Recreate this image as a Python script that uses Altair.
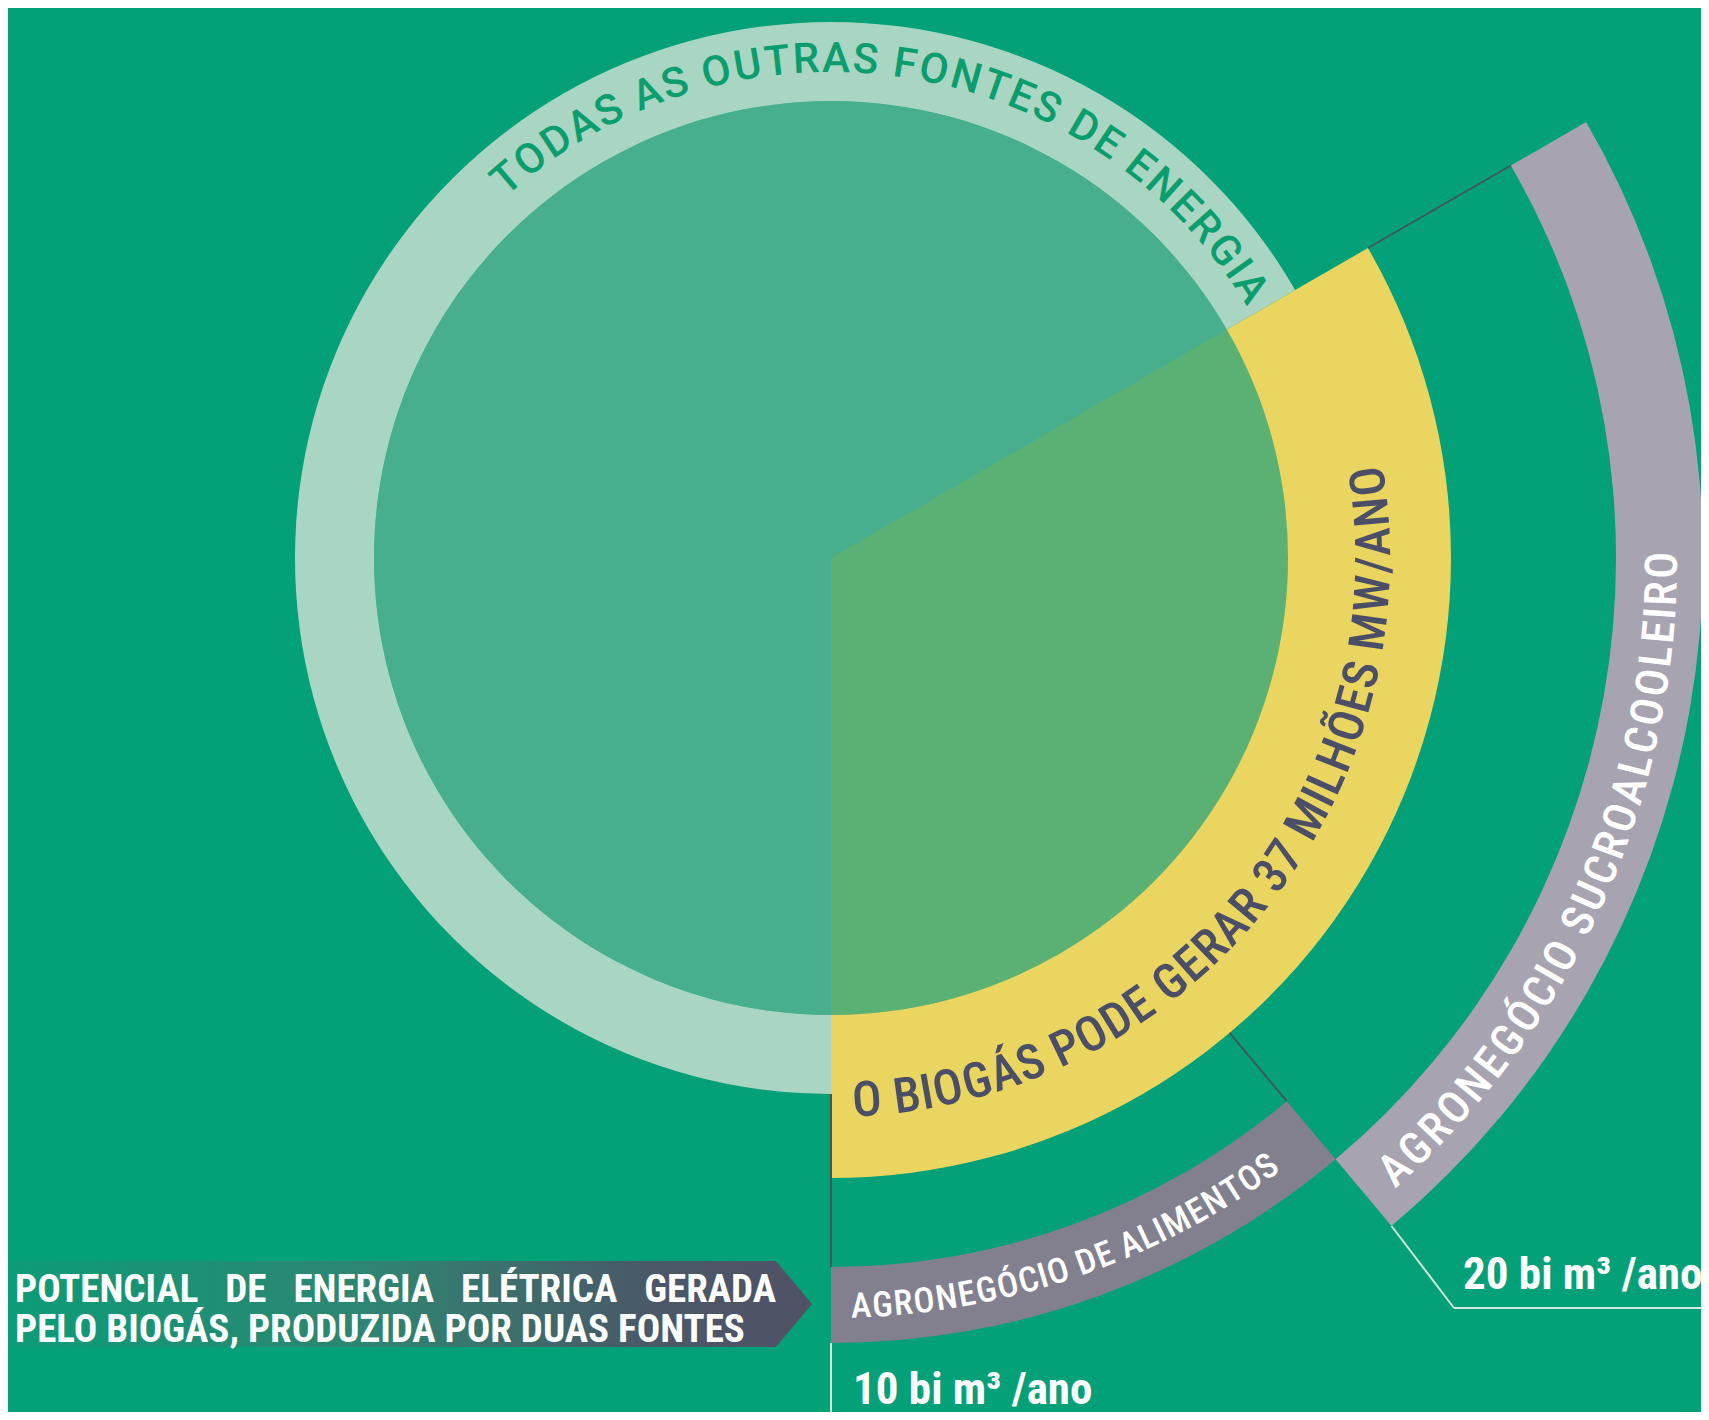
import math
import altair as alt
import pandas as pd

# ---------------- data (read from the infographic) ----------------
share_names = ["Todas as outras fontes de energia", "Biogás"]
share_values = [2, 1]                      # biogás ~ 1/3 of the circle
share_labels = ["TODAS AS OUTRAS FONTES DE ENERGIA",
                "O BIOGÁS PODE GERAR 37 MILHÕES MW/ANO"]
source_names = ["AGRONEGÓCIO DE ALIMENTOS", "AGRONEGÓCIO SUCROALCOOLEIRO"]
source_values = [10, 20]                   # bi m³/ano
source_value_labels = ["10 bi m³ /ano", "20 bi m³ /ano"]
caption_lines = ["POTENCIAL DE ENERGIA ELÉTRICA GERADA",
                 "PELO BIOGÁS, PRODUZIDA POR DUAS FONTES"]

# ---------------- layout / style ----------------
W, H = 1693, 1404
CX, CY = 823, 550
R_DISC, R_RING, R_YEL = 457, 536, 620
R_SRC = [(709, 785), (785, 872)]

BG = "#04a077"
DISC = "#47af8d"
WEDGE = "#5bb074"
RING = "#a8d6c2"
YEL = "#e9d55f"
SRC_COL = ["#82808f", "#a7a3b1"]
DARK_TXT = "#4a4e66"
TOP_TXT = "#0a9d6e"
LINE_DARK = "#3f5a57"
LINE_LIGHT = "#cfe9dd"

FONT = "Roboto"
COND = "'Roboto Condensed', 'Liberation Sans Narrow', Roboto, sans-serif"

total = sum(share_values)
bio_span = 360.0 * share_values[1] / total
bio_end = 180.0
bio_start = bio_end - bio_span
rad = math.radians

# source sub-arcs, stacked from the bottom (180°) counter-clockwise
src_arcs = []
acc = bio_end
tot_src = sum(source_values)
for v in source_values:
    span = bio_span * v / tot_src
    src_arcs.append((acc - span, acc))
    acc -= span


def arc_layer(t0, t1, r_in, r_out, color):
    df = pd.DataFrame({"t0": [rad(t0)], "t1": [rad(t1)], "ri": [r_in], "ro": [r_out]})
    return alt.Chart(df).mark_arc(color=color, stroke=None).encode(
        x=alt.value(CX), y=alt.value(CY),
        theta=alt.Theta("t0:Q", scale=None, stack=False),
        theta2="t1:Q",
        radius=alt.Radius("ro:Q", scale=None),
        radius2="ri:Q",
    )


layers = []
layers.append(arc_layer(0, 360, 0, R_DISC, DISC))
layers.append(arc_layer(bio_start, bio_end, 0, R_DISC, WEDGE))
layers.append(arc_layer(bio_end, bio_start + 360, R_DISC, R_RING, RING))
layers.append(arc_layer(bio_start, bio_end, R_DISC, R_YEL, YEL))
for (a0, a1), (ri, ro), col in zip(src_arcs, R_SRC, SRC_COL):
    layers.append(arc_layer(a0, a1, ri, ro, col))

# ---------------- connector lines ----------------
def pol(theta_deg, r):
    return CX + r * math.sin(rad(theta_deg)), CY - r * math.cos(rad(theta_deg))

segs = []
p0 = pol(src_arcs[0][0], R_YEL); p1 = pol(src_arcs[0][0], R_SRC[0][0])
segs.append((*p0, *p1, LINE_DARK))
p0 = pol(bio_start, R_YEL); p1 = pol(bio_start, R_SRC[1][0])
segs.append((*p0, *p1, LINE_DARK))
p0 = pol(bio_end, R_RING); p1 = pol(bio_end, R_SRC[0][0])
segs.append((*p0, *p1, LINE_DARK))
p0 = pol(bio_end, R_SRC[0][1])
segs.append((p0[0], p0[1], p0[0], H, LINE_LIGHT))
p0 = pol(src_arcs[1][1], R_SRC[1][1])
bend = (1446, 1300)
segs.append((p0[0], p0[1], bend[0], bend[1], LINE_LIGHT))
segs.append((bend[0], bend[1], W, bend[1], LINE_LIGHT))
seg_df = pd.DataFrame(segs, columns=["x", "y", "x2", "y2", "c"])
layers.append(alt.Chart(seg_df).mark_rule(strokeWidth=2).encode(
    x=alt.X("x:Q", scale=None, axis=None), y=alt.Y("y:Q", scale=None, axis=None),
    x2="x2:Q", y2="y2:Q", color=alt.Color("c:N", scale=None)))

# ---------------- caption box ----------------
box_df = pd.DataFrame({"x": [0, 768, 804], "y": [1253, 1253, 1296], "y2": [1339, 1339, 1296]})
grad = {"gradient": "linear", "x1": 0, "x2": 1, "y1": 0, "y2": 0,
        "stops": [{"offset": 0, "color": "#0c9c77"},
                  {"offset": 0.45, "color": "#2e8571"},
                  {"offset": 0.8, "color": "#4a5868"},
                  {"offset": 1, "color": "#505266"}]}
layers.append(alt.Chart(box_df).mark_area(color=grad).encode(
    x=alt.X("x:Q", scale=None, axis=None), y=alt.Y("y:Q", scale=None, axis=None), y2="y2:Q"))

# first line is typeset justified in the original: widen its word gaps
cap_text = [caption_lines[0].replace(" ", " \u00a0\u00a0"), caption_lines[1]]
cap_df = pd.DataFrame({"t": cap_text, "x": [7, 7], "y": [1294, 1334]})
layers.append(alt.Chart(cap_df).mark_text(font=COND, fontSize=39, fontWeight="bold",
                                          color="white", align="left", baseline="alphabetic").encode(
    x=alt.X("x:Q", scale=None, axis=None), y=alt.Y("y:Q", scale=None, axis=None), text="t:N"))

# ---------------- value labels ----------------
val_df = pd.DataFrame({"t": source_value_labels, "x": [845, 1455], "y": [1396, 1281]})
layers.append(alt.Chart(val_df).mark_text(font=COND, fontSize=45, fontWeight="bold",
                                          color="white", align="left", baseline="alphabetic").encode(
    x=alt.X("x:Q", scale=None, axis=None), y=alt.Y("y:Q", scale=None, axis=None), text="t:N"))

# ---------------- curved text ----------------
WID = {"A": .65, "Á": .65, "B": .62, "C": .64, "D": .65, "E": .57, "É": .57, "F": .55,
       "G": .68, "H": .71, "I": .29, "L": .54, "M": .86, "N": .71, "O": .69, "Ó": .69,
       "Õ": .69, "P": .62, "R": .62, "S": .6, "T": .6, "U": .66, "W": .88, "3": .56,
       "7": .56, "/": .42, " ": .26}


def curved(text, t_first, t_last, r_base, inward, size, color, weight, font):
    w = [WID.get(c, .62) for c in text]
    cen, acc = [], 0.0
    for wi in w:
        cen.append(acc + wi / 2)
        acc += wi
    f = [(c - cen[0]) / (cen[-1] - cen[0]) for c in cen]
    rows = []
    for ch, fi in zip(text, f):
        if ch == " ":
            continue
        th = t_first + fi * (t_last - t_first)
        rot = (th - 180.0) % 360 if inward else th % 360
        rows.append({"ch": ch, "th": rad(th), "r": r_base, "rot": rot})
    df = pd.DataFrame(rows)
    return alt.Chart(df).mark_text(font=font, fontSize=size, fontWeight=weight, color=color,
                                   align="center", baseline="alphabetic").encode(
        x=alt.value(CX), y=alt.value(CY),
        theta=alt.Theta("th:Q", scale=None),
        radius=alt.Radius("r:Q", scale=None),
        angle=alt.Angle("rot:Q", scale=None),
        text="ch:N")


layers.append(curved(share_labels[0], -40.5, 57.2, 486, False, 42, TOP_TXT, 500, FONT))
layers.append(curved(share_labels[1], 176.2, 81.9, 559, True, 49, DARK_TXT, 500, COND))
layers.append(curved(source_names[0], 177.7, 144.4, 760, True, 35, "white", 500, COND))
layers.append(curved(source_names[1], 137.3, 90.5, 846, True, 45, "white", 500, COND))

chart = alt.layer(*layers).properties(
    width=W, height=H, background=BG, padding=0,
    autosize=alt.AutoSizeParams(type="none"),
).configure_view(strokeWidth=0)

chart.save("out.html", embed_options={"renderer": "svg", "actions": False})
